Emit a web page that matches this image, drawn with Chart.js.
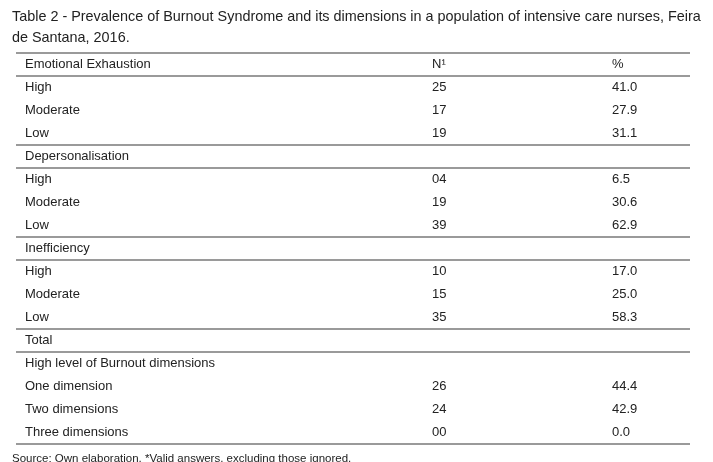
<!DOCTYPE html>
<html>
<head>
<meta charset="utf-8">
<script src="https://cdn.jsdelivr.net/npm/chart.js@4"></script>
<style>
  html, body { margin: 0; padding: 0; background: #fff; }
  #wrap { width: 713px; height: 462px; position: relative; }
</style>
</head>
<body>
<div id="wrap"><canvas id="tableChart"></canvas></div>
<script>
const titleLines = [
  "Table 2 - Prevalence of Burnout Syndrome and its dimensions in a population of intensive care nurses, Feira",
  "de Santana, 2016."
];
const rowLabels = ["Emotional Exhaustion", "High", "Moderate", "Low", "Depersonalisation", "High", "Moderate", "Low",
  "Inefficiency", "High", "Moderate", "Low", "Total", "High level of Burnout dimensions",
  "One dimension", "Two dimensions", "Three dimensions"];
const nValues = ["N\u00b9", "25", "17", "19", "", "04", "19", "39", "", "10", "15", "35", "", "", "26", "24", "00"];
const pctValues = ["%", "41.0", "27.9", "31.1", "", "6.5", "30.6", "62.9", "", "17.0", "25.0", "58.3", "", "", "44.4", "42.9", "0.0"];
// horizontal rules drawn before these row indexes (17 = bottom)
const ruleRows = [0, 1, 4, 5, 8, 9, 12, 13, 17];
const sourceNote = "Source: Own elaboration. *Valid answers, excluding those ignored.";

const font = "13px 'Liberation Sans', Arial, sans-serif";

const tablePlugin = {
  id: "tablePlugin",
  afterDraw(chart) {
    const ctx = chart.ctx;
    const x = chart.scales.x, y = chart.scales.y;
    ctx.save();
    ctx.fillStyle = "#222";
    ctx.textBaseline = "middle";
    ctx.font = "14.4px 'Liberation Sans', Arial, sans-serif";
    ctx.fillText(titleLines[0], 12, 17);
    ctx.fillText(titleLines[1], 12, 38);
    ctx.font = font;
    rowLabels.forEach((lab, i) => {
      const py = y.getPixelForValue(i);
      ctx.fillText(lab, x.getPixelForValue(25), py);
      ctx.fillText(nValues[i], x.getPixelForValue(432), py);
      ctx.fillText(pctValues[i], x.getPixelForValue(612), py);
    });
    ctx.strokeStyle = "#9a9a9a";
    ctx.lineWidth = 2;
    ruleRows.forEach(r => {
      const py = Math.round(y.getPixelForValue(r - 0.5));
      ctx.beginPath();
      ctx.moveTo(x.getPixelForValue(16), py);
      ctx.lineTo(x.getPixelForValue(690), py);
      ctx.stroke();
    });
    ctx.font = "11.5px 'Liberation Sans', Arial, sans-serif";
    ctx.fillText(sourceNote, 12, 459);
    ctx.restore();
  }
};

new Chart(document.getElementById("tableChart"), {
  type: "scatter",
  data: { datasets: [{ data: rowLabels.map((_, i) => ({ x: 0, y: i })), pointRadius: 0 }] },
  options: {
    responsive: true,
    maintainAspectRatio: false,
    animation: false,
    layout: { padding: { top: 52.5, bottom: 18.5, left: 0, right: 0 } },
    scales: {
      x: { type: "linear", min: 0, max: 713, display: false },
      y: { type: "linear", min: -0.5, max: 16.5, reverse: true, display: false }
    },
    plugins: { legend: { display: false }, tooltip: { enabled: false } }
  },
  plugins: [tablePlugin]
});
</script>
</body>
</html>
